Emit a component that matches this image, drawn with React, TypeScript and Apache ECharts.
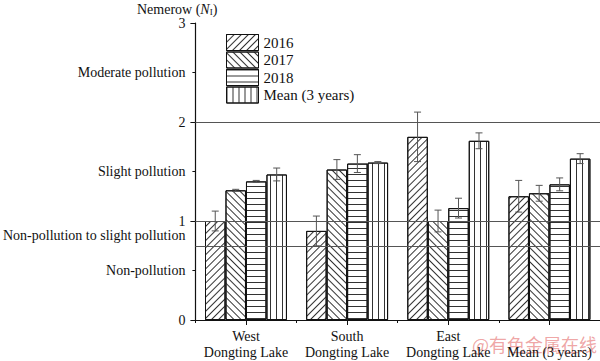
import React, { useEffect, useRef } from "react";
import * as echarts from "echarts";

const categories = ["West\nDongting Lake", "South\nDongting Lake", "East\nDongting Lake", "\nMean (3 years)"];
const seriesNames = ["2016", "2017", "2018", "Mean (3 years)"];
const v2016 = [1.0, 0.9, 1.85, 1.25];
const v2017 = [1.31, 1.52, 1.0, 1.28];
const v2018 = [1.4, 1.58, 1.13, 1.37];
const vMean = [1.47, 1.59, 1.81, 1.63];
const e2016 = [0.1, 0.15, 0.25, 0.16];
const e2017 = [0.01, 0.1, 0.11, 0.08];
const e2018 = [0.01, 0.09, 0.1, 0.065];
const eMean = [0.065, 0.01, 0.08, 0.05];
const levelLines = [2, 1, 0.75];
const majorTicks = ["0", "1", "2", "3"];
const levelLabels: Record<string, string> = {
  "0.5": "Non-pollution",
  "1.5": "Slight pollution",
  "2.5": "Moderate pollution",
};
const bandLabelValue = 0.85;
const bandLabel = "Non-pollution to slight pollution";

const FONT = "Liberation Serif";
const CAT_GAP = 0.19;

export default function App() {
  const ref = useRef<HTMLDivElement>(null);
  useEffect(() => {
    if (!ref.current) return;
    const chart = echarts.init(ref.current, null, { renderer: "svg" });
    const values = [v2016, v2017, v2018, vMean];
    const errs = [e2016, e2017, e2018, eMean];
    const decals: any[] = [
      { symbol: "rect", symbolSize: 1, dashArrayX: [1, 0], dashArrayY: [1, 4], rotation: -Math.PI / 4, color: "#333" },
      { symbol: "rect", symbolSize: 1, dashArrayX: [1, 0], dashArrayY: [1, 4], rotation: Math.PI / 4, color: "#333" },
      { symbol: "rect", symbolSize: 1, dashArrayX: [1, 0], dashArrayY: [1, 5], rotation: 0, color: "#333" },
      { symbol: "rect", symbolSize: 1, dashArrayX: [1, 5], dashArrayY: [1, 0], rotation: 0, color: "#333" },
    ];
    const barSeries = seriesNames.map((name, k) => ({
      name,
      type: "bar",
      xAxisIndex: 0,
      yAxisIndex: 0,
      barGap: "0%",
      barCategoryGap: CAT_GAP * 100 + "%",
      data: values[k],
      itemStyle: { color: "#fff", borderColor: "#111", borderWidth: 1, decal: decals[k] },
      emphasis: { disabled: true },
      ...(k === 0
        ? {
            markLine: {
              silent: true,
              symbol: ["none", "none"],
              label: { show: false },
              lineStyle: { color: "#555", width: 1, type: "solid" },
              data: levelLines.map((y) => ({ yAxis: y })),
            },
          }
        : {}),
    }));
    const errSeries = seriesNames.map((name, k) => ({
      name: name + " err",
      type: "custom",
      xAxisIndex: 0,
      yAxisIndex: 0,
      z: 5,
      silent: true,
      encode: { x: 0, y: 1 },
      data: values[k].map((v, i) => [i, v, errs[k][i]]),
      renderItem: (params: any, api: any) => {
        const ci = api.value(0);
        const v = api.value(1);
        const e = api.value(2);
        const c = api.coord([ci, v]);
        const band = api.size([1, 0])[0];
        const bw = (band * (1 - CAT_GAP)) / 4;
        const x = c[0] + (k - 1.5) * bw;
        const top = api.coord([ci, v + e])[1];
        const bot = api.coord([ci, v - e])[1];
        const cap = 3.5;
        const st = { stroke: "#555", lineWidth: 1 };
        return {
          type: "group",
          children: [
            { type: "line", shape: { x1: x, y1: top, x2: x, y2: bot }, style: st },
            { type: "line", shape: { x1: x - cap, y1: top, x2: x + cap, y2: top }, style: st },
            { type: "line", shape: { x1: x - cap, y1: bot, x2: x + cap, y2: bot }, style: st },
          ],
        };
      },
    }));
    const labelStyle = { fontFamily: FONT, fontSize: 14, color: "#111" };
    chart.setOption({
      animation: false,
      backgroundColor: "#fff",
      textStyle: { fontFamily: FONT },
      title: {
        left: 137,
        top: 0,
        padding: 0,
        text: "{a|Nemerow (}{n|N}{s|I}{a|)}",
        textStyle: {
          fontFamily: FONT,
          fontSize: 14,
          fontWeight: "normal",
          color: "#111",
          rich: {
            a: { fontFamily: FONT, fontSize: 14, color: "#111", lineHeight: 18 },
            n: { fontFamily: FONT, fontSize: 14, fontStyle: "italic", color: "#111", lineHeight: 18 },
            s: { fontFamily: FONT, fontSize: 9, color: "#111", padding: [6, 0, 0, 0] },
          },
        },
      },
      legend: {
        data: seriesNames,
        orient: "vertical",
        left: 226,
        top: 34,
        padding: 0,
        itemWidth: 32,
        itemHeight: 16,
        itemGap: 0.5,
        icon: "rect",
        itemStyle: { borderWidth: 1, borderColor: "#111", color: "#fff" },
        textStyle: { fontFamily: FONT, fontSize: 15, color: "#111", lineHeight: 16 },
        selectedMode: false,
      },
      grid: { left: 193, right: 0, top: 23, bottom: 41, containLabel: false },
      xAxis: [
        {
          type: "category",
          data: categories,
          position: "bottom",
          axisLine: { show: true, lineStyle: { color: "#111", width: 1 } },
          axisTick: { show: true, alignWithLabel: true, length: 5, lineStyle: { color: "#111" } },
          axisLabel: { ...labelStyle, margin: 8, lineHeight: 16, interval: 0 },
          splitLine: { show: false },
        },
        {
          type: "category",
          data: categories,
          position: "bottom",
          axisLine: { show: false },
          axisTick: { show: true, length: 3, lineStyle: { color: "#111" } },
          axisLabel: { show: false },
          splitLine: { show: false },
        },
      ],
      yAxis: [
        {
          type: "value",
          min: 0,
          max: 3,
          interval: 1,
          position: "left",
          offset: 0,
          axisLine: { show: true, lineStyle: { color: "#111", width: 1.2 } },
          axisTick: { show: true, length: 5, lineStyle: { color: "#111" } },
          axisLabel: { ...labelStyle, margin: 10, formatter: (v: number) => majorTicks[Math.round(v)] ?? "" },
          splitLine: { show: false },
        },
        {
          type: "value",
          min: 0,
          max: 3,
          interval: 0.5,
          position: "left",
          offset: 0,
          axisLine: { show: false },
          axisTick: { show: true, length: 3, lineStyle: { color: "#111" } },
          axisLabel: { ...labelStyle, margin: 10, formatter: (v: number) => levelLabels[String(v)] ?? "" },
          splitLine: { show: false },
        },
        {
          type: "value",
          min: 0,
          max: 3,
          interval: 0.05,
          position: "left",
          offset: 0,
          axisLine: { show: false },
          axisTick: { show: false },
          axisLabel: { ...labelStyle, margin: 10, formatter: (v: number) => (Math.abs(v - bandLabelValue) < 1e-6 ? bandLabel : "") },
          splitLine: { show: false },
        },
      ],
      graphic: [
        {
          type: "text",
          left: 472,
          top: 335,
          silent: true,
          z: -1,
          style: {
            text: "@有色金属在线",
            fill: "rgba(225,90,90,0.55)",
            font: '18px "Noto Sans CJK SC"',
          },
        },
      ],
      series: [...barSeries, ...errSeries],
    } as any);
    return () => chart.dispose();
  }, []);
  return (
    <div
      ref={ref}
      style={{ position: "fixed", left: 0, top: 0, width: 600, height: 361, background: "#fff" }}
    />
  );
}
